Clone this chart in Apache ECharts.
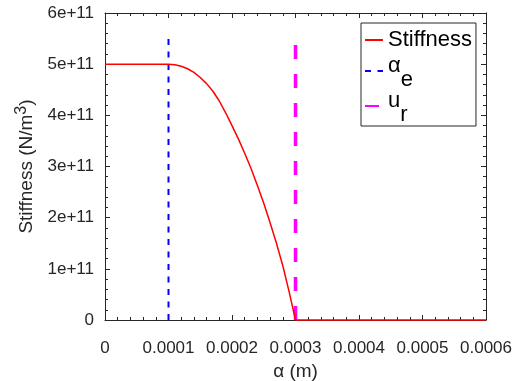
<!DOCTYPE html>
<html>
<head>
<meta charset="utf-8">
<script src="https://cdn.jsdelivr.net/npm/echarts@6/dist/echarts.min.js"></script>
<style>
  html, body { margin: 0; padding: 0; background: #fff; }
  #main { width: 512px; height: 381px; }
</style>
</head>
<body>
<div id="main"></div>
<script>
// stiffness curve
const alphaVals = [0, 0.00005, 0.0001, 0.00011, 0.00012, 0.00013, 0.00014, 0.00015, 0.00016,
  0.00017, 0.00018, 0.00019, 0.0002, 0.00021, 0.00022, 0.00023, 0.00024, 0.00025, 0.00026,
  0.00027, 0.00028, 0.00029, 0.0003, 0.0004, 0.0005, 0.0006];
const stiffVals = [5e11, 5e11, 5e11, 4.99e11, 4.96e11, 4.91e11, 4.84e11, 4.74e11, 4.62e11,
  4.47e11, 4.28e11, 4.05e11, 3.80e11, 3.54e11, 3.26e11, 2.96e11, 2.63e11, 2.28e11, 1.90e11,
  1.50e11, 1.06e11, 0.55e11, 0, 0, 0, 0];

// vertical markers
const alphaE = [0.0001, 0.0001];
const alphaEY = [0, 5.5e11];
const uR = [0.0003, 0.0003];
const uRY = [0, 5.42e11];

const xTicks = {min: 0, max: 0.0006, interval: 0.0001};
const yTicks = {min: 0, max: 6e11, interval: 1e11};

const font = 'Liberation Sans';
const ink = '#262626';

const pairs = (xs, ys) => xs.map((x, i) => [x, ys[i]]);

function frameAxis(extra) {
  return Object.assign({
    type: 'value',
    axisLine: {show: true, onZero: false, lineStyle: {color: ink, width: 1}},
    axisTick: {show: true, inside: true, length: 5, lineStyle: {color: ink}},
    minorTick: {show: true, splitNumber: 5, length: 3, lineStyle: {color: ink}},
    splitLine: {show: false},
    axisLabel: {show: false},
  }, extra);
}

let chartDom = document.getElementById('main');
let myChart = echarts.init(chartDom);
let option = {
  animation: false,
  backgroundColor: '#fff',
  textStyle: {fontFamily: font},
  grid: {left: 105, right: 26, top: 13, bottom: 61, containLabel: false, outerBoundsMode: 'none'},
  legend: {
    orient: 'vertical',
    left: 361,
    top: 23,
    padding: [1, 4, 0, 3],
    itemGap: -2,
    itemWidth: 18,
    itemHeight: 10,
    borderColor: ink,
    borderWidth: 1,
    backgroundColor: '#fff',
    itemStyle: {color: 'rgba(0,0,0,0)', borderWidth: 0},
    data: ['Stiffness', 'alphaE', 'uR'],
    formatter: function (name) {
      if (name === 'alphaE') return '{a|α}{s|e}';
      if (name === 'uR') return '{a|u}{s|r}';
      return '{m|Stiffness}';
    },
    textStyle: {
      color: '#000',
      fontFamily: font,
      fontSize: 22,
      rich: {
        m: {fontSize: 22, lineHeight: 20, padding: [5, 0, 5, 0], fontFamily: font, color: '#000'},
        a: {fontSize: 22, lineHeight: 34, verticalAlign: 'top', padding: [1, 0, 0, 0], fontFamily: font, color: '#000'},
        s: {fontSize: 22, lineHeight: 34, verticalAlign: 'bottom', padding: [0, 0, -3, 0], fontFamily: font, color: '#000'},
      },
    },
  },
  xAxis: [
    frameAxis(Object.assign({}, xTicks, {
      position: 'bottom',
      axisLabel: {
        show: true, margin: 20, fontSize: 17, color: ink, fontFamily: font,
        formatter: v => (v === 0 ? '0' : v.toFixed(4)),
      },
      name: 'α (m)',
      nameLocation: 'middle',
      nameGap: 33,
      nameTextStyle: {fontSize: 19, color: ink, fontFamily: font},
    })),
    frameAxis(Object.assign({}, xTicks, {position: 'top'})),
  ],
  yAxis: [
    frameAxis(Object.assign({}, yTicks, {
      position: 'left',
      axisLabel: {
        show: true, margin: 11, fontSize: 17, color: ink, fontFamily: font,
        formatter: v => (v === 0 ? '0' : Math.round(v / 1e11) + 'e+11'),
      },
      name: 'Stiffness (N/m{sup|3})',
      nameLocation: 'middle',
      nameGap: 56,
      nameTextStyle: {
        fontSize: 19, color: ink, fontFamily: font,
        rich: {
          sup: {fontSize: 16, color: ink, fontFamily: font, padding: [0, 0, 12, 0]},
        },
      },
    })),
    frameAxis(Object.assign({}, yTicks, {position: 'right'})),
  ],
  series: [
    {
      name: 'Stiffness',
      type: 'line',
      data: pairs(alphaVals, stiffVals),
      showSymbol: false,
      symbol: 'none',
      clip: false,
      z: 3,
      lineStyle: {color: '#ff0000', width: 1.5},
      itemStyle: {color: '#ff0000'},
    },
    {
      name: 'alphaE',
      type: 'line',
      data: pairs(alphaE, alphaEY),
      symbol: 'none',
      z: 2,
      lineStyle: {color: '#0000ff', width: 2, type: [6, 6.5]},
      itemStyle: {color: '#0000ff'},
    },
    {
      name: 'uR',
      type: 'line',
      data: pairs(uR, uRY),
      symbol: 'none',
      z: 2,
      lineStyle: {color: '#ff00ff', width: 3.5, type: [14, 15]},
      itemStyle: {color: '#ff00ff'},
    },
  ],
};
option && myChart.setOption(option);
</script>
</body>
</html>
